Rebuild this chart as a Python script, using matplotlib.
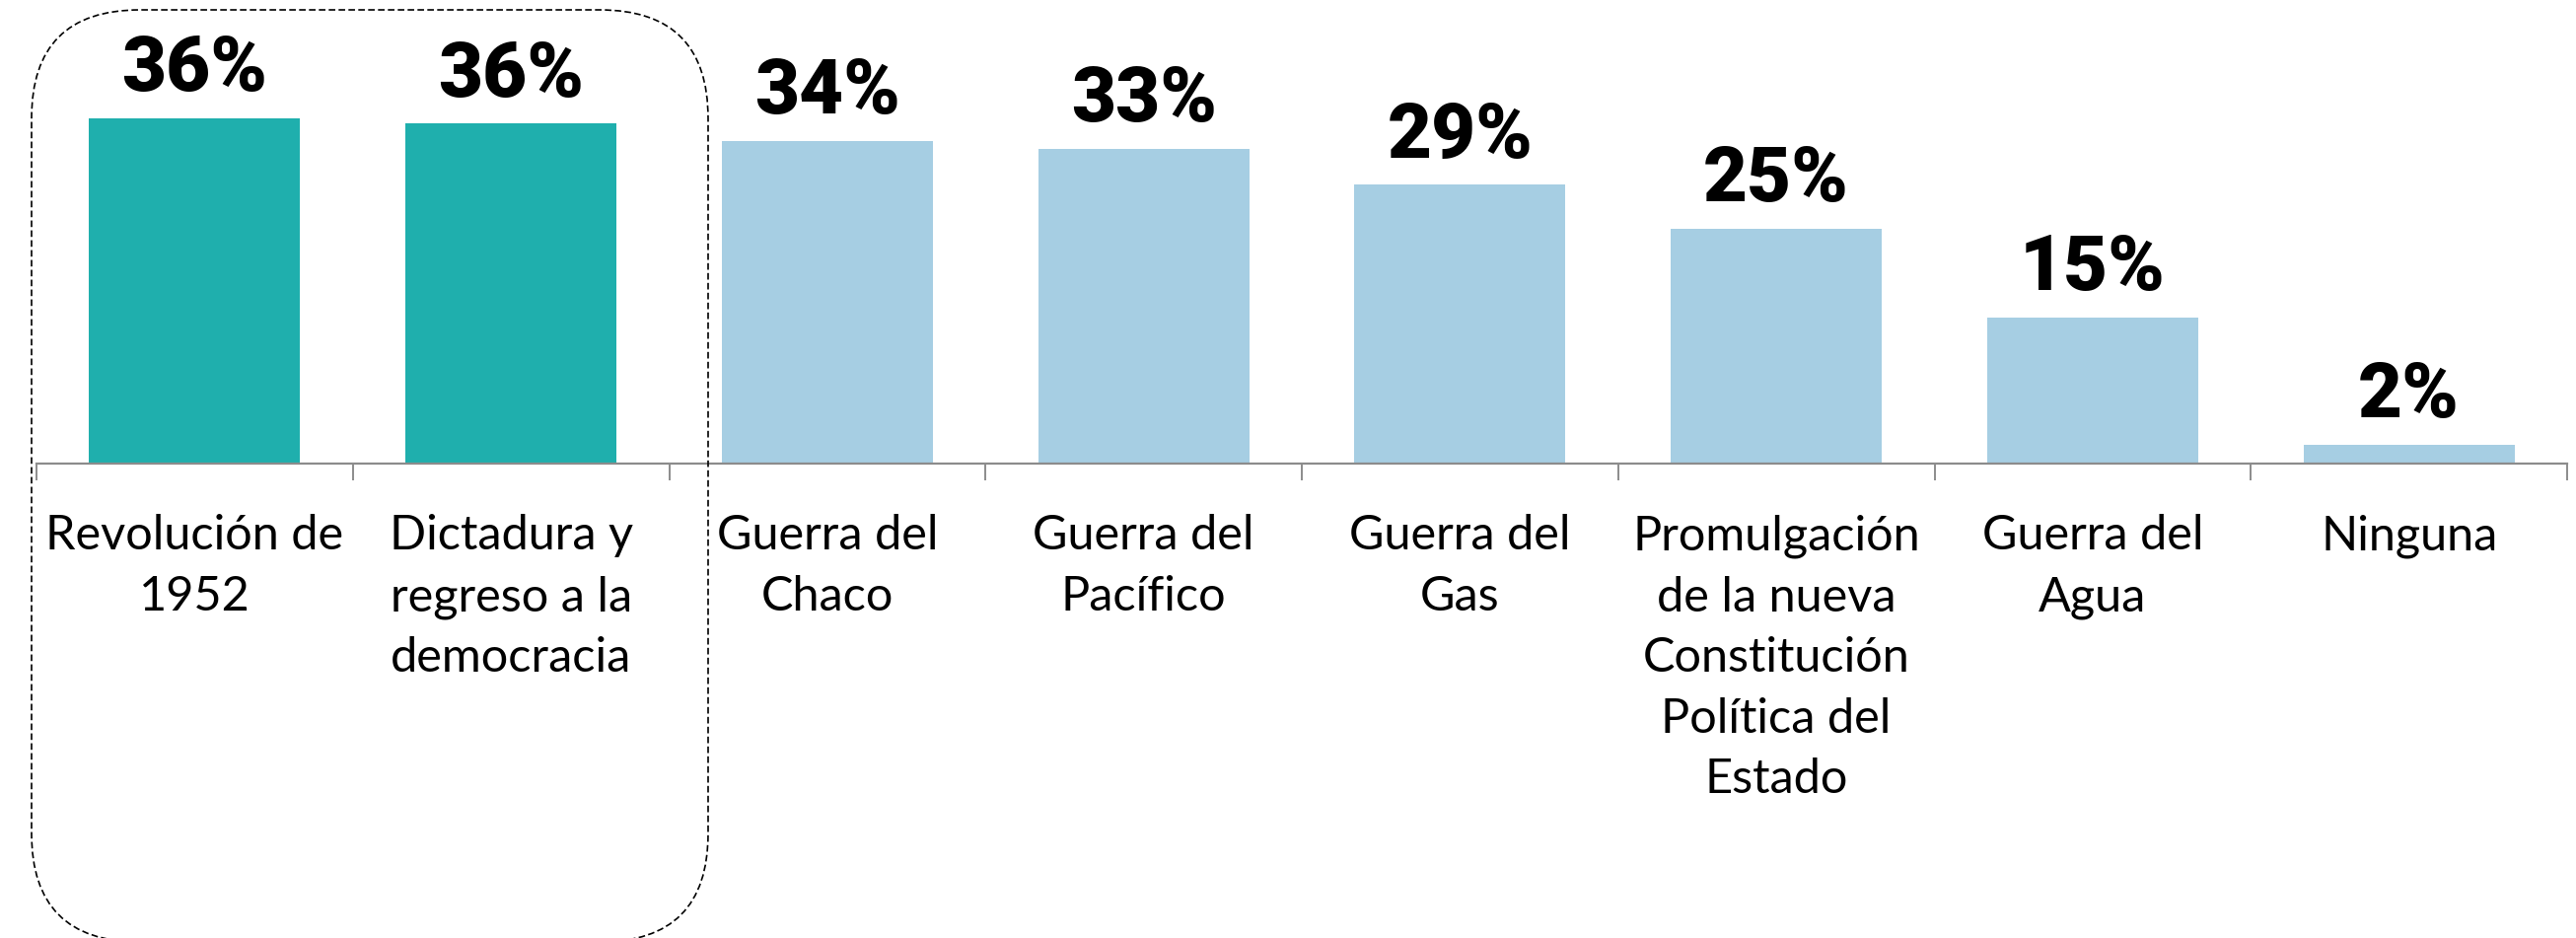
import matplotlib.pyplot as plt
import matplotlib.patches as mpatches
import numpy as np

# data
categories = ['Revolución de\n1952', 'Dictadura y\nregreso a la\ndemocracia',
              'Guerra del\nChaco', 'Guerra del\nPacífico', 'Guerra del\nGas',
              'Promulgación\nde la nueva\nConstitución\nPolítica del\nEstado',
              'Guerra del\nAgua', 'Ninguna']
values = [36.2, 35.6, 33.8, 33.0, 29.2, 24.6, 15.3, 2.0]
highlight = [True, True, False, False, False, False, False, False]

teal = '#1FAFAD'
light_blue = '#A6CEE3'
axis_grey = '#8C8C8C'

fig = plt.figure(figsize=(26.12, 9.51), dpi=100)
ax = fig.add_axes([37 / 2612, 1 - 470 / 951, 2566 / 2612, 470 / 951])

x = np.arange(len(categories))
colors = [teal if h else light_blue for h in highlight]
bars = ax.bar(x, values, width=0.667, color=colors, zorder=2)

# percentage labels above the bars
for b, v in zip(bars, values):
    ax.annotate('%d%%' % round(v), (b.get_x() + b.get_width() / 2, v),
                xytext=(0, 20), textcoords='offset points',
                ha='center', va='baseline', fontsize=56,
                fontfamily='Roboto', fontweight='heavy', color='black')

ax.set_xlim(-0.5, len(categories) - 0.5)
ax.set_ylim(0, 470 / 9.68)

for s in ['top', 'right', 'left']:
    ax.spines[s].set_visible(False)
ax.spines['bottom'].set_color(axis_grey)
ax.spines['bottom'].set_linewidth(1.6)
ax.set_yticks([])

# category boundary ticks
ax.set_xticks(np.arange(-0.5, len(categories)), minor=True)
ax.tick_params(axis='x', which='minor', length=12, width=1.4, color=axis_grey,
               direction='out')
ax.set_xticks(x)
ax.set_xticklabels(categories, fontsize=35, fontfamily='Lato',
                   linespacing=1.49, va='top')
ax.tick_params(axis='x', which='major', length=0, pad=37)

# dashed rounded box around the first two categories
box = mpatches.FancyBboxPatch((0.32, -0.04), 6.86, 9.45,
                              boxstyle='round,pad=0,rounding_size=1.1',
                              transform=fig.dpi_scale_trans,
                              facecolor='none', edgecolor='black',
                              linewidth=1.2, linestyle=(0, (4, 2)))
fig.add_artist(box)

plt.savefig('out.png', dpi=100)
